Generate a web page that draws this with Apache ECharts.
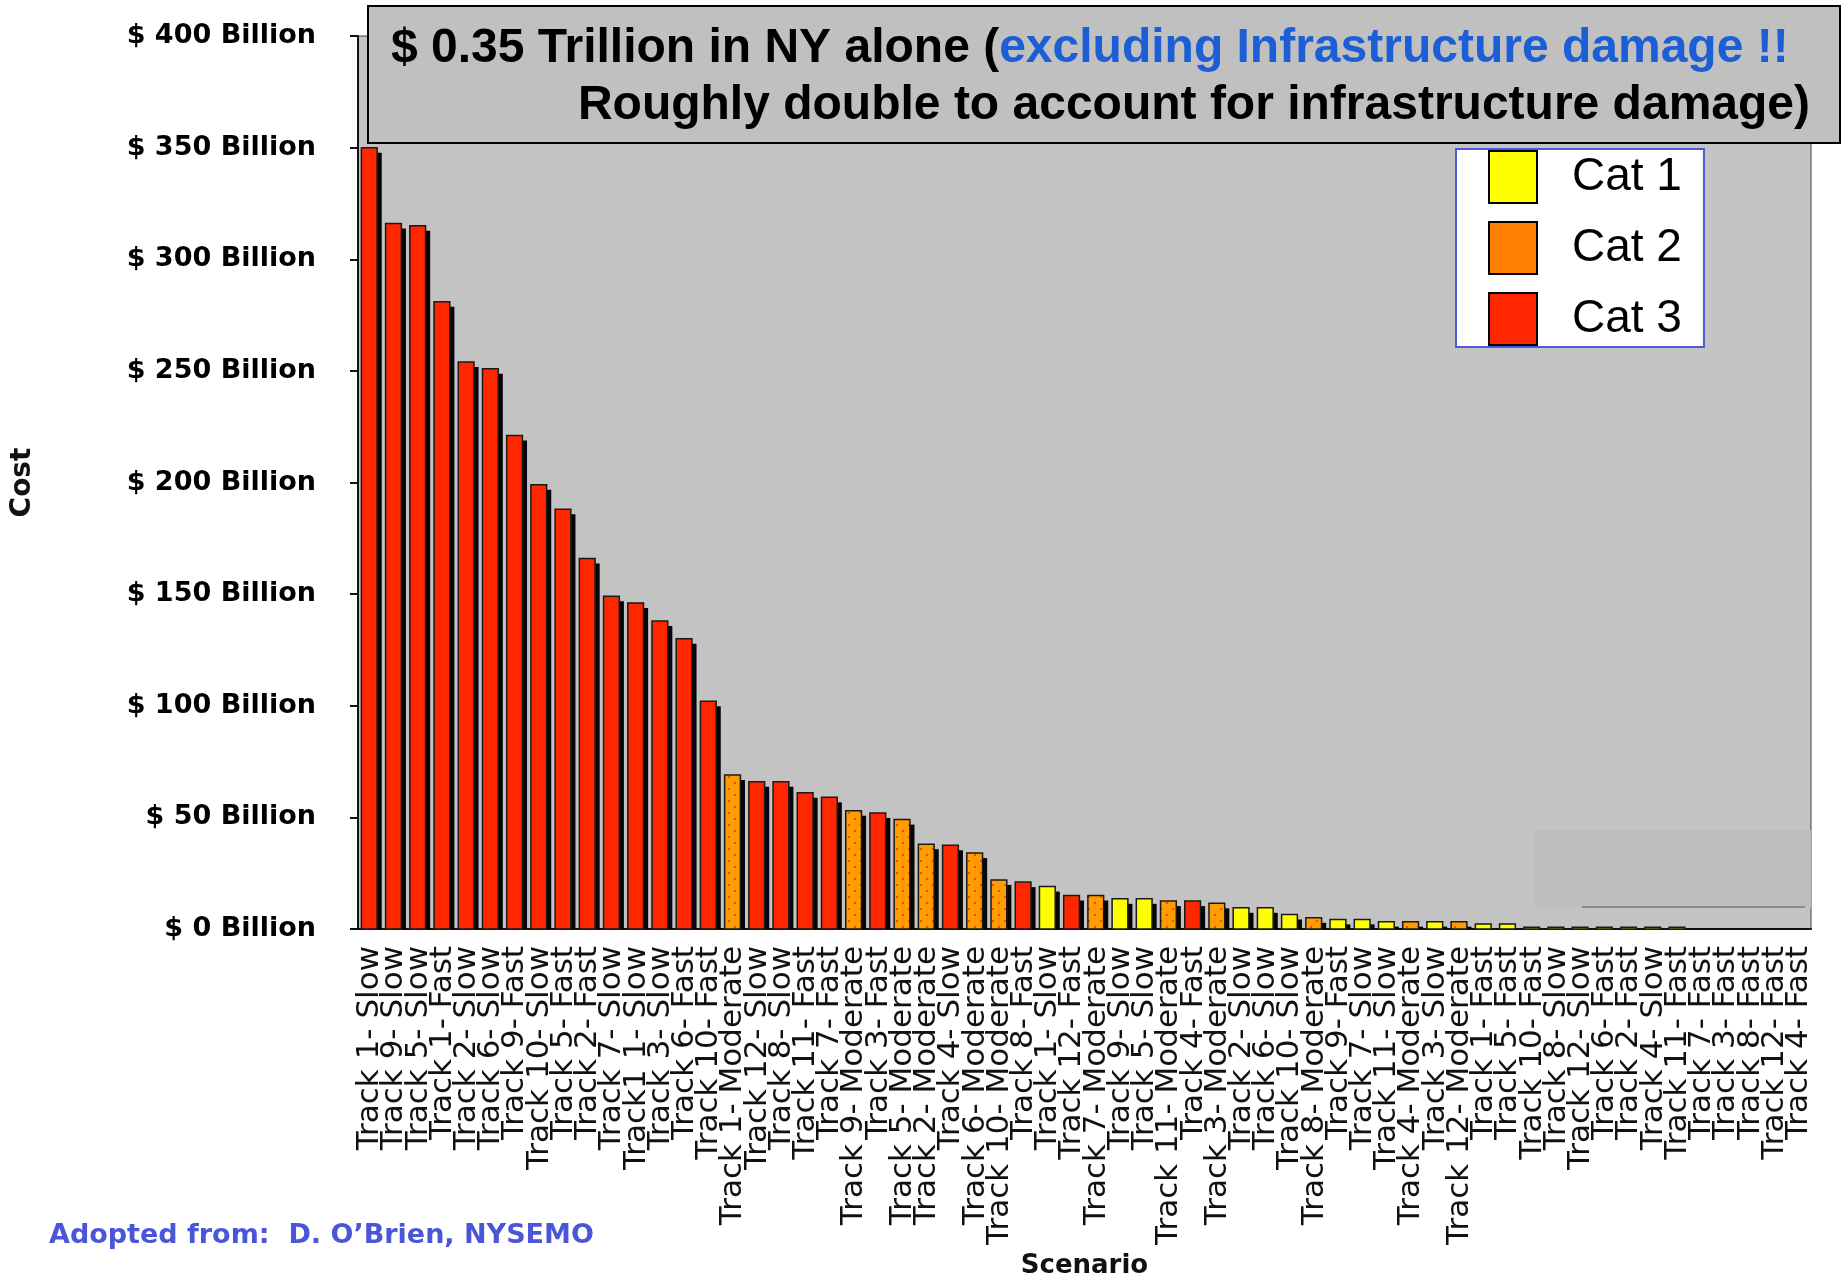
<!DOCTYPE html>
<html>
<head>
<meta charset="utf-8">
<script src="https://cdn.jsdelivr.net/npm/echarts@6/dist/echarts.min.js"></script>
<style>
  html, body { margin: 0; padding: 0; background: #ffffff; }
  #chart { width: 1843px; height: 1277px; }
</style>
</head>
<body>
<div id="chart"></div>
<script>
// Hurricane landfall scenarios, ranked by estimated cost
const scenarios = [
  'Track 1- Slow', 'Track 9- Slow', 'Track 5- Slow', 'Track 1- Fast', 'Track 2- Slow',
  'Track 6- Slow', 'Track 9- Fast', 'Track 10- Slow', 'Track 5- Fast', 'Track 2- Fast',
  'Track 7- Slow', 'Track1 1- Slow', 'Track 3- Slow', 'Track 6- Fast', 'Track 10- Fast',
  'Track 1- Moderate', 'Track 12- Slow', 'Track 8- Slow', 'Track 11- Fast', 'Track 7- Fast',
  'Track 9- Moderate', 'Track 3- Fast', 'Track 5- Moderate', 'Track 2- Moderate', 'Track 4- Slow',
  'Track 6- Moderate', 'Track 10- Moderate', 'Track 8- Fast', 'Track 1- Slow', 'Track 12- Fast',
  'Track 7- Moderate', 'Track 9- Slow', 'Track 5- Slow', 'Track 11- Moderate', 'Track 4- Fast',
  'Track 3- Moderate', 'Track 2- Slow', 'Track 6- Slow', 'Track 10- Slow', 'Track 8- Moderate',
  'Track 9- Fast', 'Track 7- Slow', 'Track 11- Slow', 'Track 4- Moderate', 'Track 3- Slow',
  'Track 12- Moderate', 'Track 1- Fast', 'Track 5- Fast', 'Track 10- Fast', 'Track 8- Slow',
  'Track 12- Slow', 'Track 6- Fast', 'Track 2- Fast', 'Track 4- Slow', 'Track 11- Fast',
  'Track 7- Fast', 'Track 3- Fast', 'Track 8- Fast', 'Track 12- Fast', 'Track 4- Fast'
];

// Cost in billions of dollars
const costs = [
  350, 316, 315, 281, 254,
  251, 221, 199, 188, 166,
  149, 146, 138, 130, 102,
  69, 66, 66, 61, 59,
  53, 52, 49, 38, 37.5,
  34, 22, 21, 19, 15,
  15, 13.5, 13.5, 12.5, 12.5,
  11.5, 9.5, 9.5, 6.5, 5,
  4.3, 4.3, 3.3, 3.3, 3.3,
  3.3, 2.2, 2.2, 0.8, 0.8,
  0.8, 0.8, 0.8, 0.8, 0.8,
  0, 0, 0, 0, 0
];

// Storm category of each scenario (1, 2 or 3)
const stormCat = [
  3, 3, 3, 3, 3,
  3, 3, 3, 3, 3,
  3, 3, 3, 3, 3,
  2, 3, 3, 3, 3,
  2, 3, 2, 2, 3,
  2, 2, 3, 1, 3,
  2, 1, 1, 2, 3,
  2, 1, 1, 1, 2,
  1, 1, 1, 2, 1,
  2, 1, 1, 1, 1,
  1, 1, 1, 1, 1,
  1, 1, 1, 1, 1
];

const catNames = ['Cat 1', 'Cat 2', 'Cat 3'];
const costTicks = [0, 50, 100, 150, 200, 250, 300, 350, 400];

const catColors = ['#ffff00', '#ff7f00', '#ff2600'];

// Dotted fill used for the Cat 2 bars
const dotTile = document.createElement('canvas');
dotTile.width = 12;
dotTile.height = 12;
(function () {
  const g = dotTile.getContext('2d');
  g.fillStyle = '#ff9c00';
  g.fillRect(0, 0, 12, 12);
  g.fillStyle = '#ff3300';
  g.beginPath(); g.arc(3, 3, 1.1, 0, Math.PI * 2); g.fill();
  g.beginPath(); g.arc(9, 9, 1.1, 0, Math.PI * 2); g.fill();
})();
const faceFills = ['#ffff00', { image: dotTile, repeat: 'repeat' }, '#ff2600'];

// Bar with a dark side shadow on its right
function drawBar(params, api) {
  const idx = api.value(0);
  const v = api.value(1);
  if (!(v > 0)) return null;
  const base = api.coord([idx, 0]);
  const top = api.coord([idx, v]);
  const band = api.size([1, 0])[0];
  const left = base[0] - band / 2 + band * 0.14;
  const w = band * 0.65;
  const h = Math.max(base[1] - top[1], 1.5);
  const drop = Math.min(5, h);
  return {
    type: 'group',
    children: [
      {
        type: 'rect',
        shape: { x: left + w, y: base[1] - h + drop, width: band * 0.19, height: h - drop },
        style: { fill: '#050505' }
      },
      {
        type: 'rect',
        shape: { x: left, y: base[1] - h, width: w, height: h },
        style: { fill: faceFills[params.seriesIndex], stroke: '#1a1a1a', lineWidth: 1.5 }
      }
    ]
  };
}

const series = catNames.map((name, c) => ({
  name: name,
  type: 'custom',
  renderItem: drawBar,
  itemStyle: { color: catColors[c] },
  encode: { x: 0, y: 1 },
  data: costs
    .map((v, i) => (stormCat[i] === c + 1 ? [i, v] : null))
    .filter(Boolean)
}));

const chart = echarts.init(document.getElementById('chart'), null, { renderer: 'canvas' });

chart.setOption({
  animation: false,
  backgroundColor: '#ffffff',
  grid: {
    left: 358, right: 32, top: 36, bottom: 348,
    outerBoundsMode: 'none',
    containLabel: false,
    show: true, backgroundColor: '#c3c3c3', borderColor: '#444444', borderWidth: 1
  },
  legend: {
    data: catNames,
    orient: 'vertical',
    left: 1456, top: 149,
    icon: 'rect',
    itemWidth: 48, itemHeight: 52, itemGap: 17,
    padding: [1, 22, 1, 32],
    backgroundColor: '#ffffff',
    borderColor: '#4b5bdc', borderWidth: 2,
    selectedMode: false,
    itemStyle: { borderColor: '#000000', borderWidth: 2 },
    formatter: '{t|{name}}',
    textStyle: {
      rich: {
        t: { fontFamily: 'Liberation Sans', fontSize: 46, color: '#000000', padding: [0, 0, 0, 30] }
      }
    }
  },
  xAxis: {
    type: 'category',
    data: scenarios,
    name: 'Scenario',
    nameLocation: 'middle',
    nameGap: 324,
    nameTextStyle: { fontFamily: 'DejaVu Sans', fontWeight: 'bold', fontSize: 26, color: '#111111' },
    axisLine: { lineStyle: { color: '#111111', width: 2 } },
    axisTick: { length: 10, lineStyle: { color: '#111111', width: 2 } },
    axisLabel: {
      interval: 0, rotate: 90, margin: 17,
      fontFamily: 'DejaVu Sans', fontSize: 31, color: '#111111'
    }
  },
  yAxis: {
    type: 'value',
    min: costTicks[0],
    max: costTicks[costTicks.length - 1],
    interval: costTicks[1] - costTicks[0],
    name: 'Cost',
    nameLocation: 'middle',
    nameRotate: 90,
    nameGap: 321,
    nameTextStyle: { fontFamily: 'DejaVu Sans', fontWeight: 'bold', fontSize: 28, color: '#111111' },
    axisLine: { show: true, lineStyle: { color: '#111111', width: 2 } },
    axisTick: { show: true, length: 8, lineStyle: { color: '#111111', width: 2 } },
    splitLine: { show: false },
    axisLabel: {
      margin: 42,
      formatter: (v) => '$ ' + v + ' Billion',
      fontFamily: 'DejaVu Sans', fontWeight: 'bold', fontSize: 27, color: '#000000'
    }
  },
  graphic: [
    {
      type: 'rect', z: 1, silent: true,
      shape: { x: 1535, y: 830, width: 276, height: 77 },
      style: { fill: '#bdbdbd' }
    },
    {
      type: 'line', z: 1, silent: true,
      shape: { x1: 1582, y1: 907, x2: 1805, y2: 907 },
      style: { stroke: '#555555', lineWidth: 1 }
    },
    {
      type: 'rect', z: 100, silent: true,
      shape: { x: 368, y: 6, width: 1472, height: 137 },
      style: { fill: '#c0c0c0', stroke: '#000000', lineWidth: 2 }
    },
    {
      type: 'text', z: 101, silent: true,
      style: {
        x: 391, y: 49,
        verticalAlign: 'middle', align: 'left',
        text: '{a|$ 0.35 Trillion in NY alone (}{b|excluding Infrastructure damage !!}',
        rich: {
          a: {
            fontFamily: 'Liberation Sans', fontWeight: 'bold', fontSize: 48, fill: '#000000',
            textShadowColor: '#ffffff', textShadowOffsetX: 2, textShadowOffsetY: 2
          },
          b: {
            fontFamily: 'Liberation Sans', fontWeight: 'bold', fontSize: 48, fill: '#1c5ed6',
            textShadowColor: '#ffffff', textShadowOffsetX: 2, textShadowOffsetY: 2
          }
        }
      }
    },
    {
      type: 'text', z: 101, silent: true,
      style: {
        x: 1810, y: 106,
        verticalAlign: 'middle', align: 'right',
        text: 'Roughly double to account for infrastructure damage)',
        fontFamily: 'Liberation Sans', fontWeight: 'bold', fontSize: 48, fill: '#000000',
        textShadowColor: '#ffffff', textShadowOffsetX: 2, textShadowOffsetY: 2
      }
    },
    {
      type: 'text', z: 101, silent: true,
      style: {
        x: 49, y: 1236,
        verticalAlign: 'middle', align: 'left',
        text: 'Adopted from:  D. O\u2019Brien, NYSEMO',
        fontFamily: 'DejaVu Sans', fontWeight: 'bold', fontSize: 27, fill: '#4a55d8'
      }
    }
  ],
  series: series
});
</script>
</body>
</html>
